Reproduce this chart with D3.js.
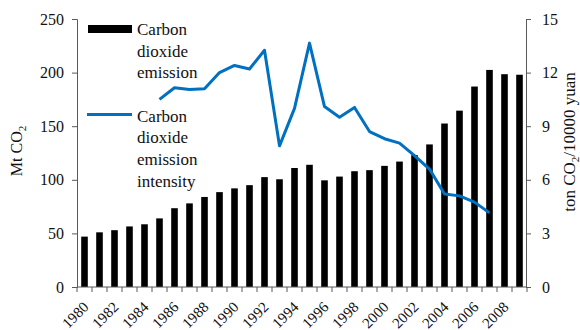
<!DOCTYPE html>
<html>
<head>
<meta charset="utf-8">
<script src="https://cdn.jsdelivr.net/npm/d3@7"></script>
<style>
  html, body { margin: 0; padding: 0; background: #fff; }
  svg { display: block; font-family: "Liberation Serif", "Times New Roman", serif; }
</style>
</head>
<body>
<svg id="chart" width="580" height="330"></svg>
<script>
// Years on the category axis
const years = d3.range(1980, 2010);
// Annual CO2 emission, Mt CO2
const emission = [47, 51, 53, 56.5, 58.5, 64, 73.5, 78, 84, 88.5, 92, 95, 102.5, 100.5, 111,
                  114, 99.5, 103, 108, 109, 113, 117, 123, 133, 152.5, 164.5, 187, 202.5, 198.5, 198];
// Emission intensity, ton CO2 per 10000 yuan (1985-2007)
const intensityYears = d3.range(1985, 2008);
const intensity = [10.5, 11.15, 11.05, 11.1, 12.0, 12.4, 12.2, 13.25, 7.9, 10.0, 13.65, 10.1,
                   9.5, 10.05, 8.7, 8.3, 8.05, 7.35, 6.6, 5.2, 5.1, 4.75, 4.15];
const leftTicks = [0, 50, 100, 150, 200, 250];
const rightTicks = [0, 3, 6, 9, 12, 15];
const yearLabels = d3.range(1980, 2010, 2);

const svg = d3.select("#chart");
const plotLeft = 77, plotRight = 527, plotTop = 19, plotBottom = 287;
const axisColor = "#595959";
const serif = "Liberation Serif, Times New Roman, serif";

const x = d3.scaleBand().domain(years).range([plotLeft, plotRight]).paddingInner(0.56).paddingOuter(0.28);
const xb = d3.scaleBand().domain(years).range([plotLeft, plotRight]);
const yL = d3.scaleLinear().domain([0, 250]).range([plotBottom, plotTop]);
const yR = d3.scaleLinear().domain([0, 15]).range([plotBottom, plotTop]);

// Bars
svg.append("g").selectAll("rect").data(years).join("rect")
  .attr("x", d => x(d))
  .attr("width", x.bandwidth())
  .attr("y", (d, i) => yL(emission[i]))
  .attr("height", (d, i) => yL(0) - yL(emission[i]))
  .attr("fill", "#000");

// Intensity line
const line = d3.line()
  .x((d, i) => xb(intensityYears[i]) + xb.bandwidth() / 2)
  .y(d => yR(d));
svg.append("path").datum(intensity)
  .attr("d", line)
  .attr("fill", "none")
  .attr("stroke", "#0070C0")
  .attr("stroke-width", 3)
  .attr("stroke-linejoin", "round");

// Left axis
const gL = svg.append("g").attr("transform", `translate(${plotLeft},0)`)
  .call(d3.axisLeft(yL).tickValues(leftTicks).tickSize(5).tickPadding(8));
// Right axis
const gR = svg.append("g").attr("transform", `translate(${plotRight - 1},0)`)
  .call(d3.axisRight(yR).tickValues(rightTicks).tickSize(5).tickPadding(11));
[gL, gR].forEach(g => {
  g.attr("font-family", serif);
  g.select(".domain").attr("stroke", axisColor);
  g.selectAll(".tick line").attr("stroke", axisColor);
  g.selectAll(".tick text").attr("font-family", serif).attr("font-size", 16).attr("fill", "#111");
});

// Bottom axis: ticks on band edges, labels every second year
const gB = svg.append("g").attr("font-family", serif);
gB.append("line").attr("x1", plotLeft).attr("x2", plotRight).attr("y1", plotBottom).attr("y2", plotBottom)
  .attr("stroke", axisColor);
gB.selectAll("line.t").data(years.concat([2010])).join("line").attr("class", "t")
  .attr("x1", d => d === 2010 ? plotRight : xb(d)).attr("x2", d => d === 2010 ? plotRight : xb(d))
  .attr("y1", plotBottom).attr("y2", plotBottom + 5).attr("stroke", axisColor);
gB.selectAll("text").data(yearLabels).join("text")
  .attr("transform", d => `translate(${xb(d) + xb.bandwidth() / 2 + 5},${plotBottom + 21}) rotate(-45)`)
  .attr("text-anchor", "end")
  .attr("font-size", 15)
  .attr("fill", "#111")
  .text(d => d);

// Axis titles
const tL = svg.append("text")
  .attr("transform", "translate(22,151) rotate(-90)")
  .attr("font-family", serif)
  .attr("text-anchor", "middle").attr("font-size", 16).attr("fill", "#111");
tL.append("tspan").text("Mt CO");
tL.append("tspan").attr("font-size", 11).attr("dy", 4).text("2");

const tR = svg.append("text")
  .attr("transform", "translate(575,142) rotate(-90)")
  .attr("font-family", serif)
  .attr("text-anchor", "middle").attr("font-size", 17).attr("fill", "#111");
tR.append("tspan").text("ton CO");
tR.append("tspan").attr("font-size", 11).attr("dy", 4).text("2");
tR.append("tspan").attr("dy", -4).text("/10000 yuan");

// Legend
const legend = svg.append("g").attr("font-family", serif);
legend.append("rect").attr("x", 88).attr("y", 25).attr("width", 44).attr("height", 8).attr("fill", "#000");
["Carbon", "dioxide", "emission"].forEach((t, i) => {
  legend.append("text").attr("x", 137).attr("y", 35 + i * 21.7).attr("font-size", 17).attr("fill", "#111").text(t);
});
legend.append("line").attr("x1", 87).attr("x2", 132).attr("y1", 114.5).attr("y2", 114.5)
  .attr("stroke", "#0070C0").attr("stroke-width", 3);
["Carbon", "dioxide", "emission", "intensity"].forEach((t, i) => {
  legend.append("text").attr("x", 137).attr("y", 121.7 + i * 21.7).attr("font-size", 17).attr("fill", "#111").text(t);
});
</script>
</body>
</html>
